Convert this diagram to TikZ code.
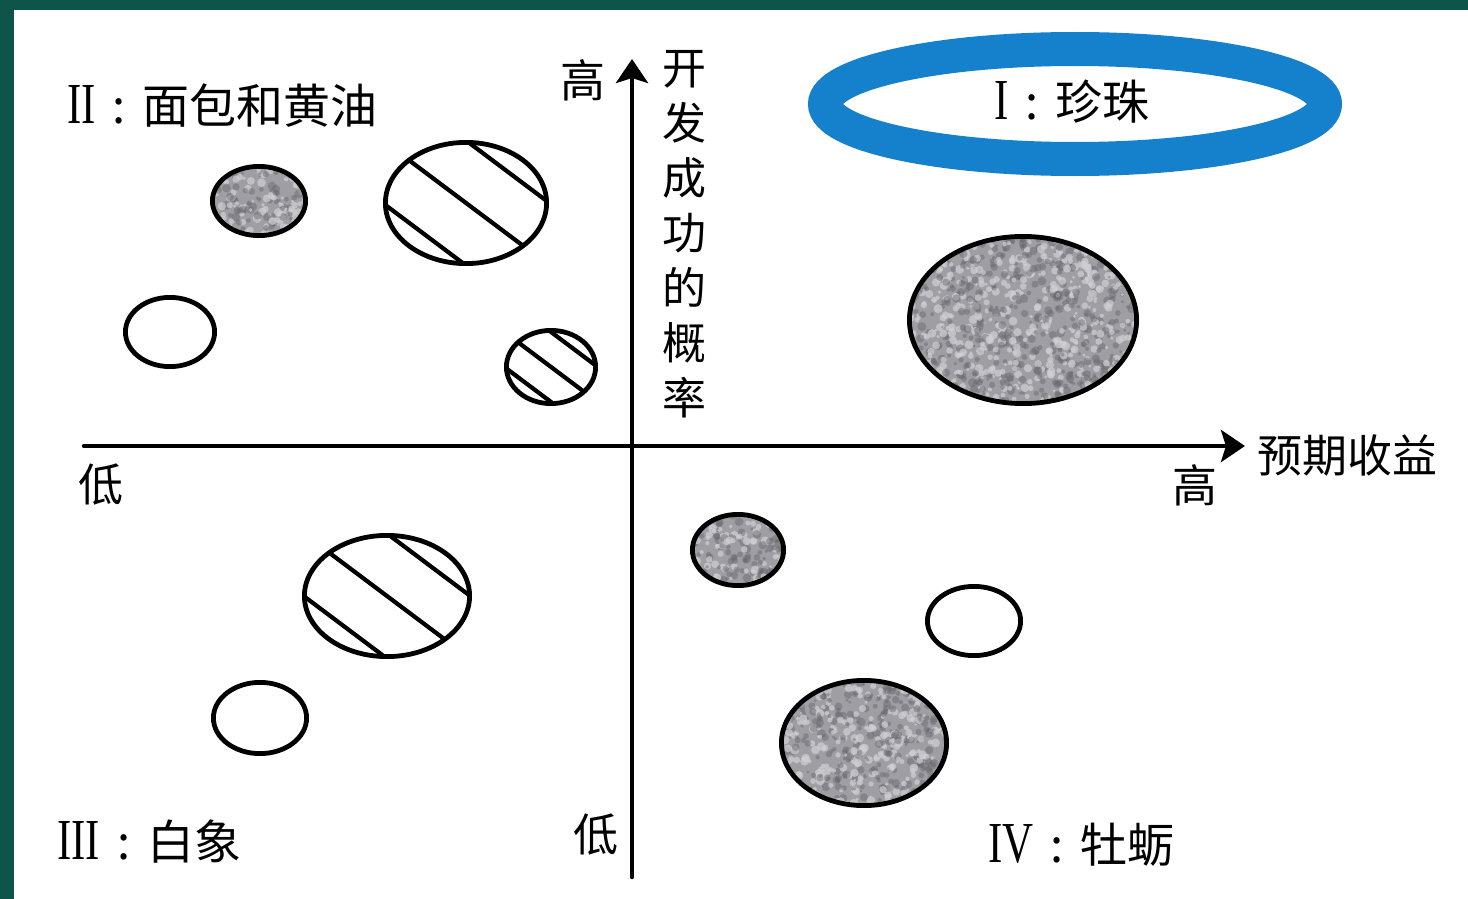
\documentclass[tikz,border=0pt]{standalone}
\usepackage{fontspec}
\usepackage{graphicx}
\newfontfamily\cjk{Noto Sans CJK SC}
\newfontfamily\romfont{Liberation Serif}
\usetikzlibrary{arrows.meta,shapes.geometric}
\definecolor{bordergreen}{HTML}{0E5449}
\definecolor{ringblue}{HTML}{1580CB}
\definecolor{speck}{HTML}{9E9EA3}
\definecolor{specklight}{HTML}{D0D0D4}
\definecolor{speckdark}{HTML}{66666C}
\newcommand{\rn}[1]{{\romfont\fontsize{58}{58}\selectfont\scalebox{0.74}[1]{#1}}}
\newcommand{\qcolon}{\makebox[47pt]{:}}
\tikzset{
  axisline/.style={line width=4.5pt, line cap=round, -{Stealth[length=24pt,width=32pt,inset=5pt]}},
  cjklabel/.style={font=\cjk\fontsize{45}{45}\selectfont, inner sep=0pt},
  quadlabel/.style={font=\cjk\fontsize{47}{47}\selectfont, inner sep=0pt, anchor=base west},
  blob/.style 2 args={ellipse, draw=black, line width=4.8pt, inner sep=0pt,
    minimum width={2*#1-4.8}, minimum height={2*#2-4.8}},
  whiteblob/.style 2 args={blob={#1}{#2}, fill=white},
  grayblob/.style 2 args={blob={#1}{#2}, fill=speck,
    path picture={
      \pgfmathtruncatemacro\ndots{#1*#2/9}
      \foreach \i in {1,...,\ndots}{
        \pgfmathsetmacro\px{rand*#1}
        \pgfmathsetmacro\py{rand*#2}
        \pgfmathsetmacro\rr{1.5+3*rnd}
        \pgfmathsetmacro\kind{rnd}
        \ifdim\kind pt<0.5pt
          \fill[specklight, opacity=0.7] ([shift={(\px,\py)}]path picture bounding box.center) circle[radius=\rr pt];
        \else
          \fill[speckdark, opacity=0.45] ([shift={(\px,\py)}]path picture bounding box.center) circle[radius=\rr pt];
        \fi
      }
    }},
  hatchblob/.style n args={3}{blob={#1}{#2}, fill=white,
    path picture={
      \foreach \o in {#3}{
        \pgfmathsetmacro\dx{0.6*\o}
        \pgfmathsetmacro\dy{-0.8*\o}
        \draw[line width=4.2pt] ([shift={(\dx,\dy)}]path picture bounding box.center)
          ++(-96,-72) -- ++(192,144);
      }
    }},
}
\begin{document}
\begin{tikzpicture}[x=1pt,y=-1pt]
\pgfmathsetseed{7}
\useasboundingbox (0,0) rectangle (1468,899);
\fill[bordergreen] (0,0) rectangle (1468,899);
\fill[white] (14,10) rectangle (1468,899);

% axes
\coordinate (xs) at (84,446);
\coordinate (xe) at (1245,446);
\coordinate (ys) at (632,877);
\coordinate (ye) at (632,59);
\draw[axisline] (xs) -- (xe);
\draw[axisline] (ys) -- (ye);

% axis labels
\node[cjklabel] (yhigh) at (583,80) {高};
\node[font=\cjk\fontsize{44}{55}\selectfont, inner sep=0pt, align=center] (ylab) at (684,234)
  {开\\发\\成\\功\\的\\概\\率};
\node[cjklabel, anchor=base west] (xlab) at (1257,472) {预期收益};
\node[cjklabel] (xhigh) at (1195,485) {高};
\node[cjklabel] (xlow) at (101,485) {低};
\node[cjklabel] (ylow) at (596,835) {低};

% quadrant I ring
\node[ellipse, draw=ringblue, line width=34pt, minimum width=500pt, minimum height=110pt, inner sep=0pt] (ring) at (1075,104) {};
\node[quadlabel] (q1) at (994,120) {\rn{I}\qcolon 珍珠};
\node[quadlabel] (q2) at (67,124) {\rn{II}\qcolon 面包和黄油};
\node[quadlabel] (q3) at (57,859) {\rn{III}\qcolon 白象};
\node[quadlabel] (q4) at (988,862) {\rn{IV}\qcolon 牡蛎};

% quadrant II
\node[grayblob={49}{37}] (g2) at (259,201) {};
\node[hatchblob={83}{63}{-50,0,50}] (h2a) at (466,203) {};
\node[whiteblob={47}{37}] (w2) at (170,332) {};
\node[hatchblob={47}{39}{-28,0,28}] (h2b) at (551,367) {};

% quadrant I
\node[grayblob={116}{86}] (g1) at (1023,320) {};

% quadrant III
\node[hatchblob={85}{63}{-50,0,50}] (h3) at (387,596) {};
\node[whiteblob={49}{38}] (w3) at (260,718) {};

% quadrant IV
\node[grayblob={48}{38}] (g4a) at (738,550) {};
\node[whiteblob={49}{37}] (w4) at (974,621) {};
\node[grayblob={85}{65}] (g4b) at (864,743) {};
\end{tikzpicture}
\end{document}
